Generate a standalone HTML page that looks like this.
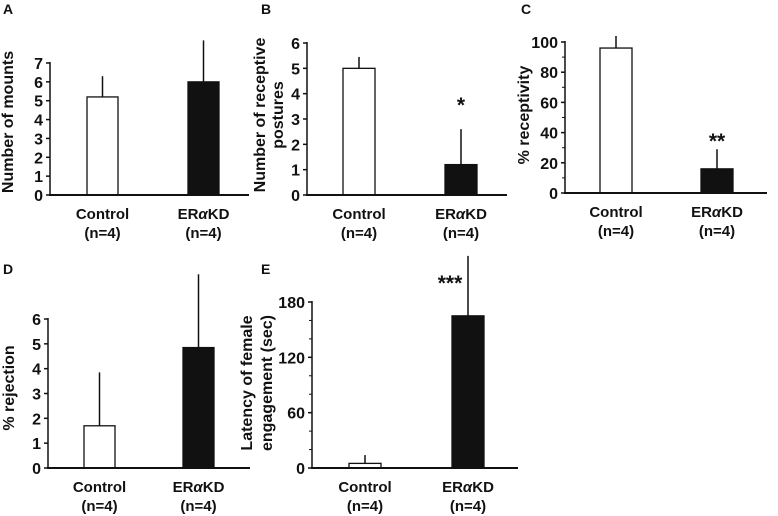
<!DOCTYPE html>
<html><head><meta charset="utf-8"><style>
body{margin:0;background:#fff}
svg{display:block;font-family:"Liberation Sans",Arial,sans-serif;font-weight:bold}
</style></head><body>
<svg id="fig" width="778" height="516" viewBox="0 0 778 516" xmlns="http://www.w3.org/2000/svg"></svg>
<script>
const categories = ["Control", "ERαKD"];
const nLabels = ["(n=4)", "(n=4)"];
const meansA = [5.2, 6.0];   const errA = [6.3, 8.2];
const meansB = [5.0, 1.2];   const errB = [5.45, 2.6];
const meansC = [96, 16];     const errC = [104, 29];
const meansD = [1.7, 4.85];  const errD = [3.85, 7.8];
const meansE = [5, 165];     const errE = [14, 230];
const ticksA = [0,1,2,3,4,5,6,7];
const ticksB = [0,1,2,3,4,5,6];
const ticksC = [0,20,40,60,80,100];
const ticksD = [0,1,2,3,4,5,6];
const ticksE = [0,60,120,180];
const starsB = ["", "*"];
const starsC = ["", "**"];
const starsE = ["", "***"];

const svg = document.getElementById('fig');
const NS = "http://www.w3.org/2000/svg";
function mk(tag, attrs, name, parent){
  const e = document.createElementNS(NS, tag);
  for (const k in attrs) e.setAttribute(k, attrs[k]);
  
  
  (parent||svg).appendChild(e);
  return e;
}
function catLabel(t, text){
  if (text.indexOf('α') >= 0){
    const parts = text.split('α');
    t.appendChild(document.createTextNode(parts[0]));
    const a = document.createElementNS(NS,'tspan');
    a.setAttribute('font-style','italic');
    a.textContent = 'α';
    t.appendChild(a);
    t.appendChild(document.createTextNode(parts[1]));
  } else t.textContent = text;
}
function panel(p){
  const g = mk('g', {}, 'panel-' + p.letter.toLowerCase());
  const y = v => p.y0 - (v - p.min) / (p.max - p.min) * (p.y0 - p.yTop);
  const t = mk('text', {x:p.lx, y:p.ly, 'font-size':14, fill:'#111'}, 'panel-label', g);
  t.textContent = p.letter;
  p.ticks.forEach(v=>{
    mk('line',{x1:p.ax-4,x2:p.ax,y1:y(v),y2:y(v),stroke:'#111','stroke-width':1.5},'y-tick',g);
    const tl = mk('text',{x:p.ax-7,y:y(v)+6,'font-size':16,'text-anchor':'end',fill:'#111'},'y-tick-label',g);
    tl.textContent = v;
  });
  if (p.minor){
    for (let v=p.min; v<=p.max+1e-9; v+=p.minor){
      mk('line',{x1:p.ax-3,x2:p.ax,y1:y(v),y2:y(v),stroke:'#111','stroke-width':1},'y-minor-tick',g);
    }
  }
  p.means.forEach((m,i)=>{
    const bx = p.barX[i];
    const cx = bx + p.bw/2;
    const et = Math.max(y(p.errs[i]), 0);
    mk('line',{x1:cx,x2:cx,y1:y(m),y2:et,stroke:'#111','stroke-width':1.5},'error-bar',g);
    mk('rect',{x:bx,y:y(m),width:p.bw,height:p.y0-y(m),fill:i?'#111':'#fff',stroke:'#111','stroke-width':1.3},'bar-'+(i?'eraKD':'control'),g);
    const c = mk('text',{x:cx,y:p.y0+24,'font-size':15,'text-anchor':'middle',fill:'#111'},'x-category-label',g);
    catLabel(c, categories[i]);
    const n = mk('text',{x:cx,y:p.y0+43,'font-size':15,'text-anchor':'middle',fill:'#111'},'x-n-label',g);
    n.textContent = nLabels[i];
    if (p.stars && p.stars[i]){
      const s = mk('text',{x:p.starX!==undefined?p.starX:cx,y:p.starY,'font-size':21,'text-anchor':'middle',fill:'#111'},'significance-marker',g);
      s.textContent = p.stars[i];
    }
  });
  mk('line',{x1:p.ax,x2:p.ax,y1:p.yTop-1,y2:p.y0,stroke:'#111','stroke-width':1.5},'y-axis',g);
  mk('line',{x1:p.ax-1,x2:p.axEnd,y1:p.y0,y2:p.y0,stroke:'#111','stroke-width':2},'x-axis',g);
  p.title.forEach((line,k)=>{
    const tx = p.titleX[k], ty = p.titleY;
    const tt = mk('text',{x:tx,y:ty,'font-size':16,'text-anchor':'middle',fill:'#111',transform:`rotate(-90 ${tx} ${ty})`},'y-axis-title',g);
    tt.textContent = line;
  });
}
panel({letter:'A',lx:3,ly:14,ax:50,axEnd:249,y0:195,yTop:63,min:0,max:7,ticks:ticksA,means:meansA,errs:errA,barX:[87,188],bw:31,title:['Number of mounts'],titleX:[13],titleY:122});
panel({letter:'B',lx:261,ly:14,ax:307,axEnd:507,y0:195,yTop:43,min:0,max:6,ticks:ticksB,means:meansB,errs:errB,barX:[343,445],bw:32,title:['Number of receptive','postures'],titleX:[265,283],titleY:115,stars:starsB,starY:112});
panel({letter:'C',lx:521,ly:14,ax:565,axEnd:767,y0:193,yTop:42,min:0,max:100,minor:10,ticks:ticksC,means:meansC,errs:errC,barX:[600,701],bw:32,title:['% receptivity'],titleX:[529],titleY:115,stars:starsC,starY:148});
panel({letter:'D',lx:3,ly:274,ax:48,axEnd:250,y0:468,yTop:319,min:0,max:6,ticks:ticksD,means:meansD,errs:errD,barX:[84,183],bw:31,title:['% rejection'],titleX:[14],titleY:388});
panel({letter:'E',lx:261,ly:274,ax:312,axEnd:518,y0:468,yTop:302,min:0,max:180,minor:20,ticks:ticksE,means:meansE,errs:errE,barX:[349,452],bw:32,title:['Latency of female','engagement (sec)'],titleX:[252,272],titleY:383,stars:starsE,starX:450,starY:290});
</script>
</body></html>
